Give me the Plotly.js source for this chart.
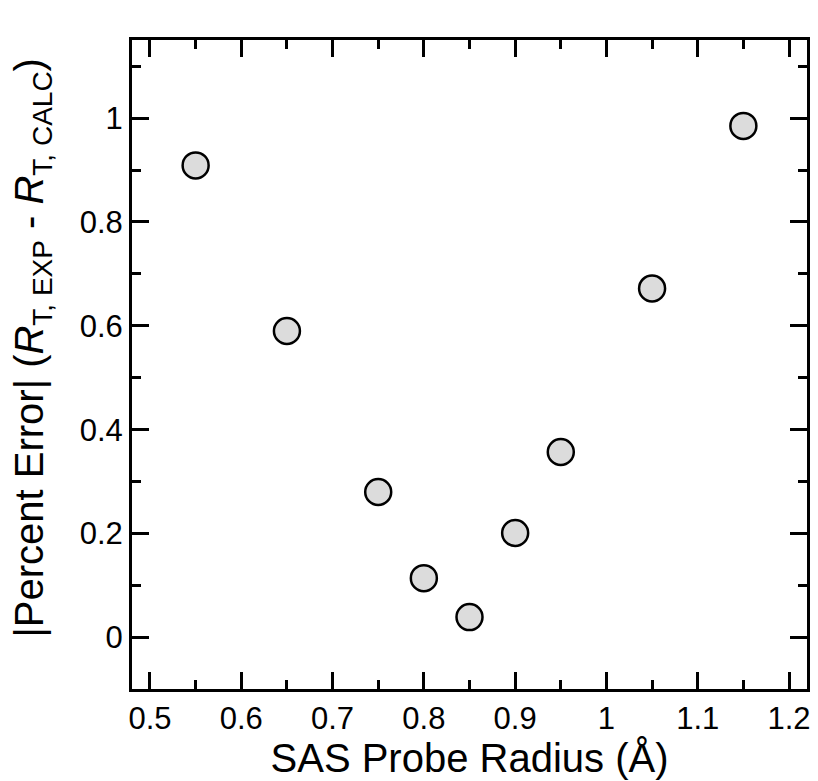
<!DOCTYPE html>
<html>
<head>
<meta charset="utf-8">
<script src="https://cdn.plot.ly/plotly-3.0.1.min.js"></script>
<style>html,body{margin:0;padding:0;background:#fff;}#plot{width:818px;height:781px;}</style>
</head>
<body>
<div id="plot"></div>
<script>
const probeRadius = [0.55, 0.65, 0.75, 0.80, 0.85, 0.90, 0.95, 1.05, 1.15];
const percentError = [0.909, 0.590, 0.280, 0.114, 0.039, 0.201, 0.357, 0.672, 0.985];
const xTickVals = [0.5, 0.6, 0.7, 0.8, 0.9, 1.0, 1.1, 1.2];
const xTickText = ['0.5', '0.6', '0.7', '0.8', '0.9', '1', '1.1', '1.2'];
const yTickVals = [0, 0.2, 0.4, 0.6, 0.8, 1.0];
const yTickText = ['0', '0.2', '0.4', '0.6', '0.8', '1'];

const fontFam = 'Liberation Sans, Arial, Helvetica, sans-serif';
const trace = {
  x: probeRadius, y: percentError, type: 'scatter', mode: 'markers',
  marker: {size: 26, color: '#dcdcdc', line: {color: '#000', width: 2.5}},
  cliponaxis: false
};
const axisCommon = {
  showline: true, linecolor: '#000', linewidth: 3, mirror: 'allticks',
  ticks: 'inside', tickwidth: 3, tickcolor: '#000', showgrid: false, zeroline: false,
  automargin: false,
  tickfont: {family: fontFam, size: 31, color: '#000'}
};
const layout = {
  width: 818, height: 781,
  margin: {l: 132, r: 11, t: 40, b: 92},
  paper_bgcolor: '#fff', plot_bgcolor: '#fff',
  showlegend: false,
  xaxis: Object.assign({}, axisCommon, {
    range: [0.4803, 1.2197], tickmode: 'array', tickvals: xTickVals, ticktext: xTickText, ticklen: 17,
    minor: {dtick: 0.05, tick0: 0.5, ticks: 'inside', ticklen: 9, tickwidth: 3, tickcolor: '#000'},
    title: {text: 'SAS Probe Radius (Å)', font: {family: fontFam, size: 40, color: '#000'}, standoff: 6}
  }),
  yaxis: Object.assign({}, axisCommon, {
    range: [-0.0995, 1.1505], tickmode: 'array', tickvals: yTickVals, ticktext: yTickText, ticklen: 17,
    minor: {dtick: 0.1, tick0: 0, ticks: 'inside', ticklen: 9, tickwidth: 3, tickcolor: '#000'},
    title: {text: '&nbsp;&nbsp;&nbsp;|Percent Error| (<i>R</i><sub>T, EXP</sub> - <i>R</i><sub>T, CALC</sub>)', font: {family: fontFam, size: 40, color: '#000'}, standoff: 24}
  })
};
Plotly.newPlot('plot', [trace], layout, {displayModeBar: false, staticPlot: true});
</script>
</body>
</html>
